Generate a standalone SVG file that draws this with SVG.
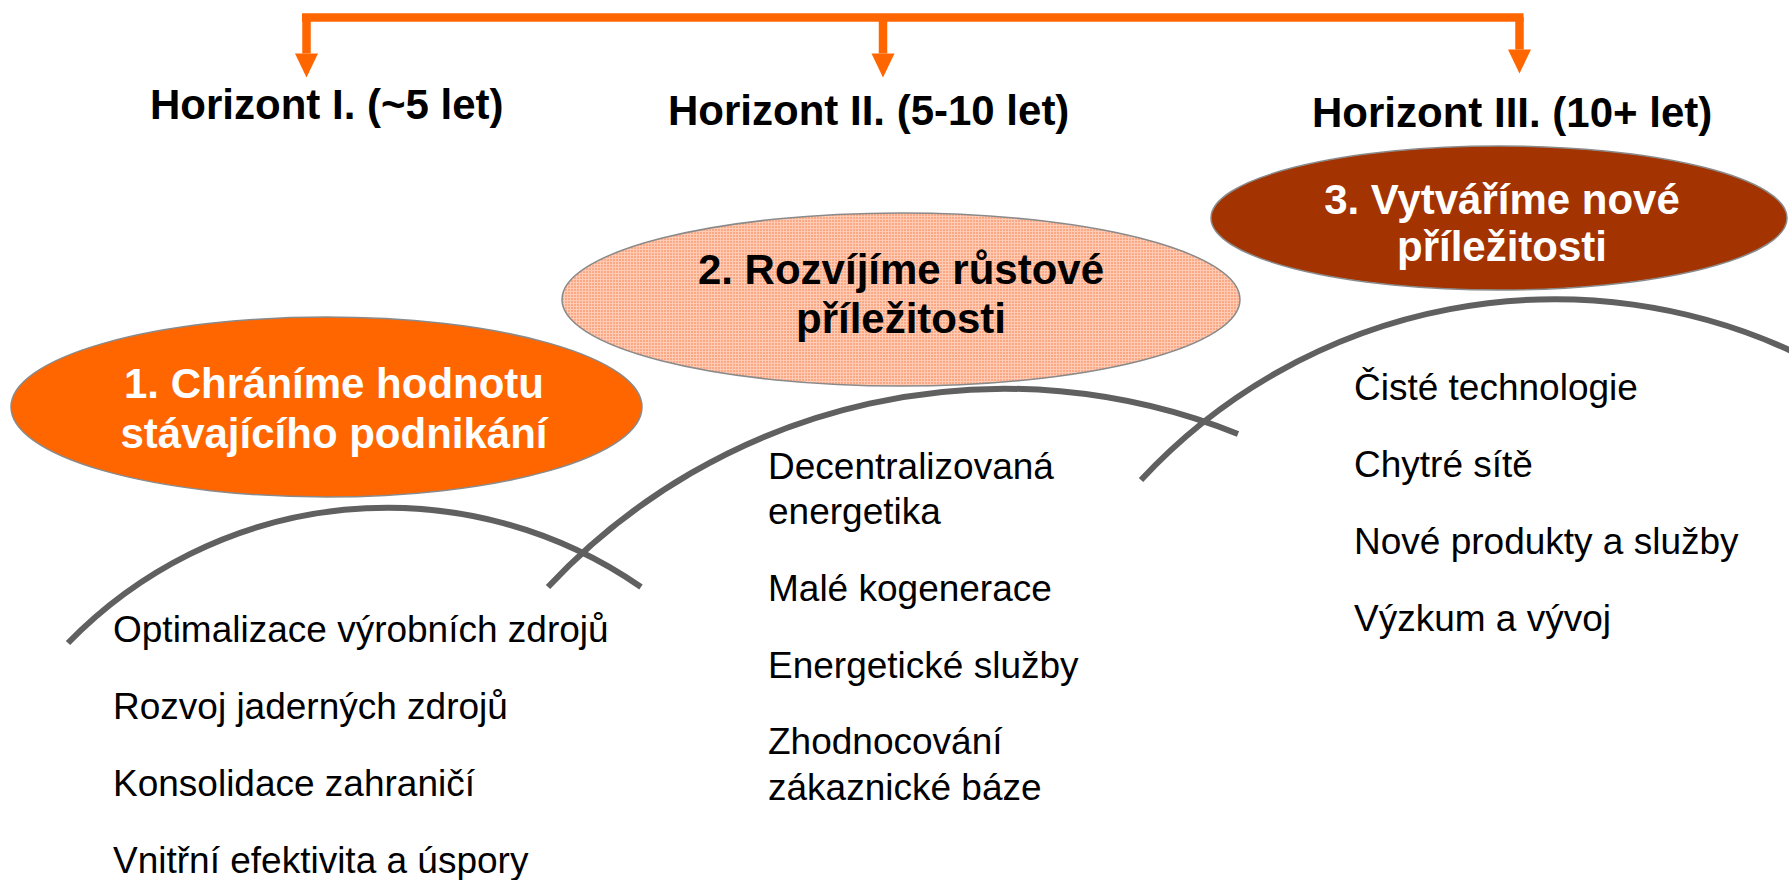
<svg xmlns="http://www.w3.org/2000/svg" width="1789" height="880" viewBox="0 0 1789 880">
  <style>
    .hz { font-family: "Liberation Sans", Arial, sans-serif; font-weight: bold; font-size: 42px; fill: #000; }
    .et { font-family: "Liberation Sans", Arial, sans-serif; font-weight: bold; font-size: 42px; text-anchor: middle; }
    .it { font-family: "Liberation Sans", Arial, sans-serif; font-size: 37px; fill: #000; }
    .arc { fill: none; stroke: #606060; stroke-width: 6; }
    .ell { stroke: #8a8a8a; stroke-width: 1.5; }
    .conn { fill: none; stroke: #FF6600; stroke-width: 8.5; }
  </style>
  <defs>
    <marker id="ah" markerUnits="userSpaceOnUse" markerWidth="24" markerHeight="23" viewBox="0 -11.5 24 23" refX="0" refY="0" orient="auto" overflow="visible">
      <path d="M0,-11.5 L24,0 L0,11.5 Z" fill="#FF6600"/>
    </marker>
    <pattern id="grid" width="3" height="3" patternUnits="userSpaceOnUse">
      <rect width="3" height="3" fill="#FBA985"/>
      <rect width="3" height="1" fill="#FFCBB4"/>
      <rect width="1" height="3" fill="#FFCBB4"/>
    </pattern>
  </defs>
  <rect width="1789" height="880" fill="#ffffff"/>

  <g id="connectors">
    <path class="conn" d="M302,17.5 H1523.5"/>
    <path class="conn" d="M306.5,17 V53.5" marker-end="url(#ah)"/>
    <path class="conn" d="M883,17 V53.5" marker-end="url(#ah)"/>
    <path class="conn" d="M1519.5,17 V49.5" marker-end="url(#ah)"/>
  </g>

  <g id="horizon-labels">
    <text id="h1" class="hz" x="150" y="119">Horizont I. (~5 let)</text>
    <text id="h2" class="hz" x="668" y="125">Horizont II. (5-10 let)</text>
    <text id="h3" class="hz" x="1312" y="127">Horizont III. (10+ let)</text>
  </g>

  <g id="arcs">
    <path class="arc" d="M68,643 A445,445 0 0 1 641,587"/>
    <path class="arc" d="M548,587 A625,625 0 0 1 1238,434"/>
    <path class="arc" d="M1141,480 A565,565 0 0 1 1800,355"/>
  </g>

  <g id="node1">
    <ellipse class="ell" cx="326.5" cy="407" rx="315.5" ry="90" fill="#FF6600"/>
    <text class="et" fill="#ffffff" x="334" y="398" font-size="41">1. Chráníme hodnotu</text>
    <text class="et" fill="#ffffff" x="334" y="448" font-size="41">stávajícího podnikání</text>
  </g>

  <g id="node2">
    <ellipse class="ell" cx="901" cy="299.5" rx="339" ry="86.5" fill="url(#grid)"/>
    <text class="et" fill="#000000" x="901" y="284">2. Rozvíjíme růstové</text>
    <text class="et" fill="#000000" x="901" y="333">příležitosti</text>
  </g>

  <g id="node3">
    <ellipse class="ell" cx="1499" cy="218" rx="288" ry="72" fill="#A33300"/>
    <text class="et" fill="#ffffff" x="1502" y="214">3. Vytváříme nové</text>
    <text class="et" fill="#ffffff" x="1502" y="261">příležitosti</text>
  </g>

  <g id="list1">
    <text class="it" x="113" y="642">Optimalizace výrobních zdrojů</text>
    <text class="it" x="113" y="719">Rozvoj jaderných zdrojů</text>
    <text class="it" x="113" y="796">Konsolidace zahraničí</text>
    <text class="it" x="113" y="873">Vnitřní efektivita a úspory</text>
  </g>

  <g id="list2">
    <text class="it" x="768" y="479">Decentralizovaná</text>
    <text class="it" x="768" y="524">energetika</text>
    <text class="it" x="768" y="601">Malé kogenerace</text>
    <text class="it" x="768" y="678">Energetické služby</text>
    <text class="it" x="768" y="754">Zhodnocování</text>
    <text class="it" x="768" y="800">zákaznické báze</text>
  </g>

  <g id="list3">
    <text class="it" x="1354" y="400">Čisté technologie</text>
    <text class="it" x="1354" y="477">Chytré sítě</text>
    <text class="it" x="1354" y="554">Nové produkty a služby</text>
    <text class="it" x="1354" y="631">Výzkum a vývoj</text>
  </g>
</svg>
